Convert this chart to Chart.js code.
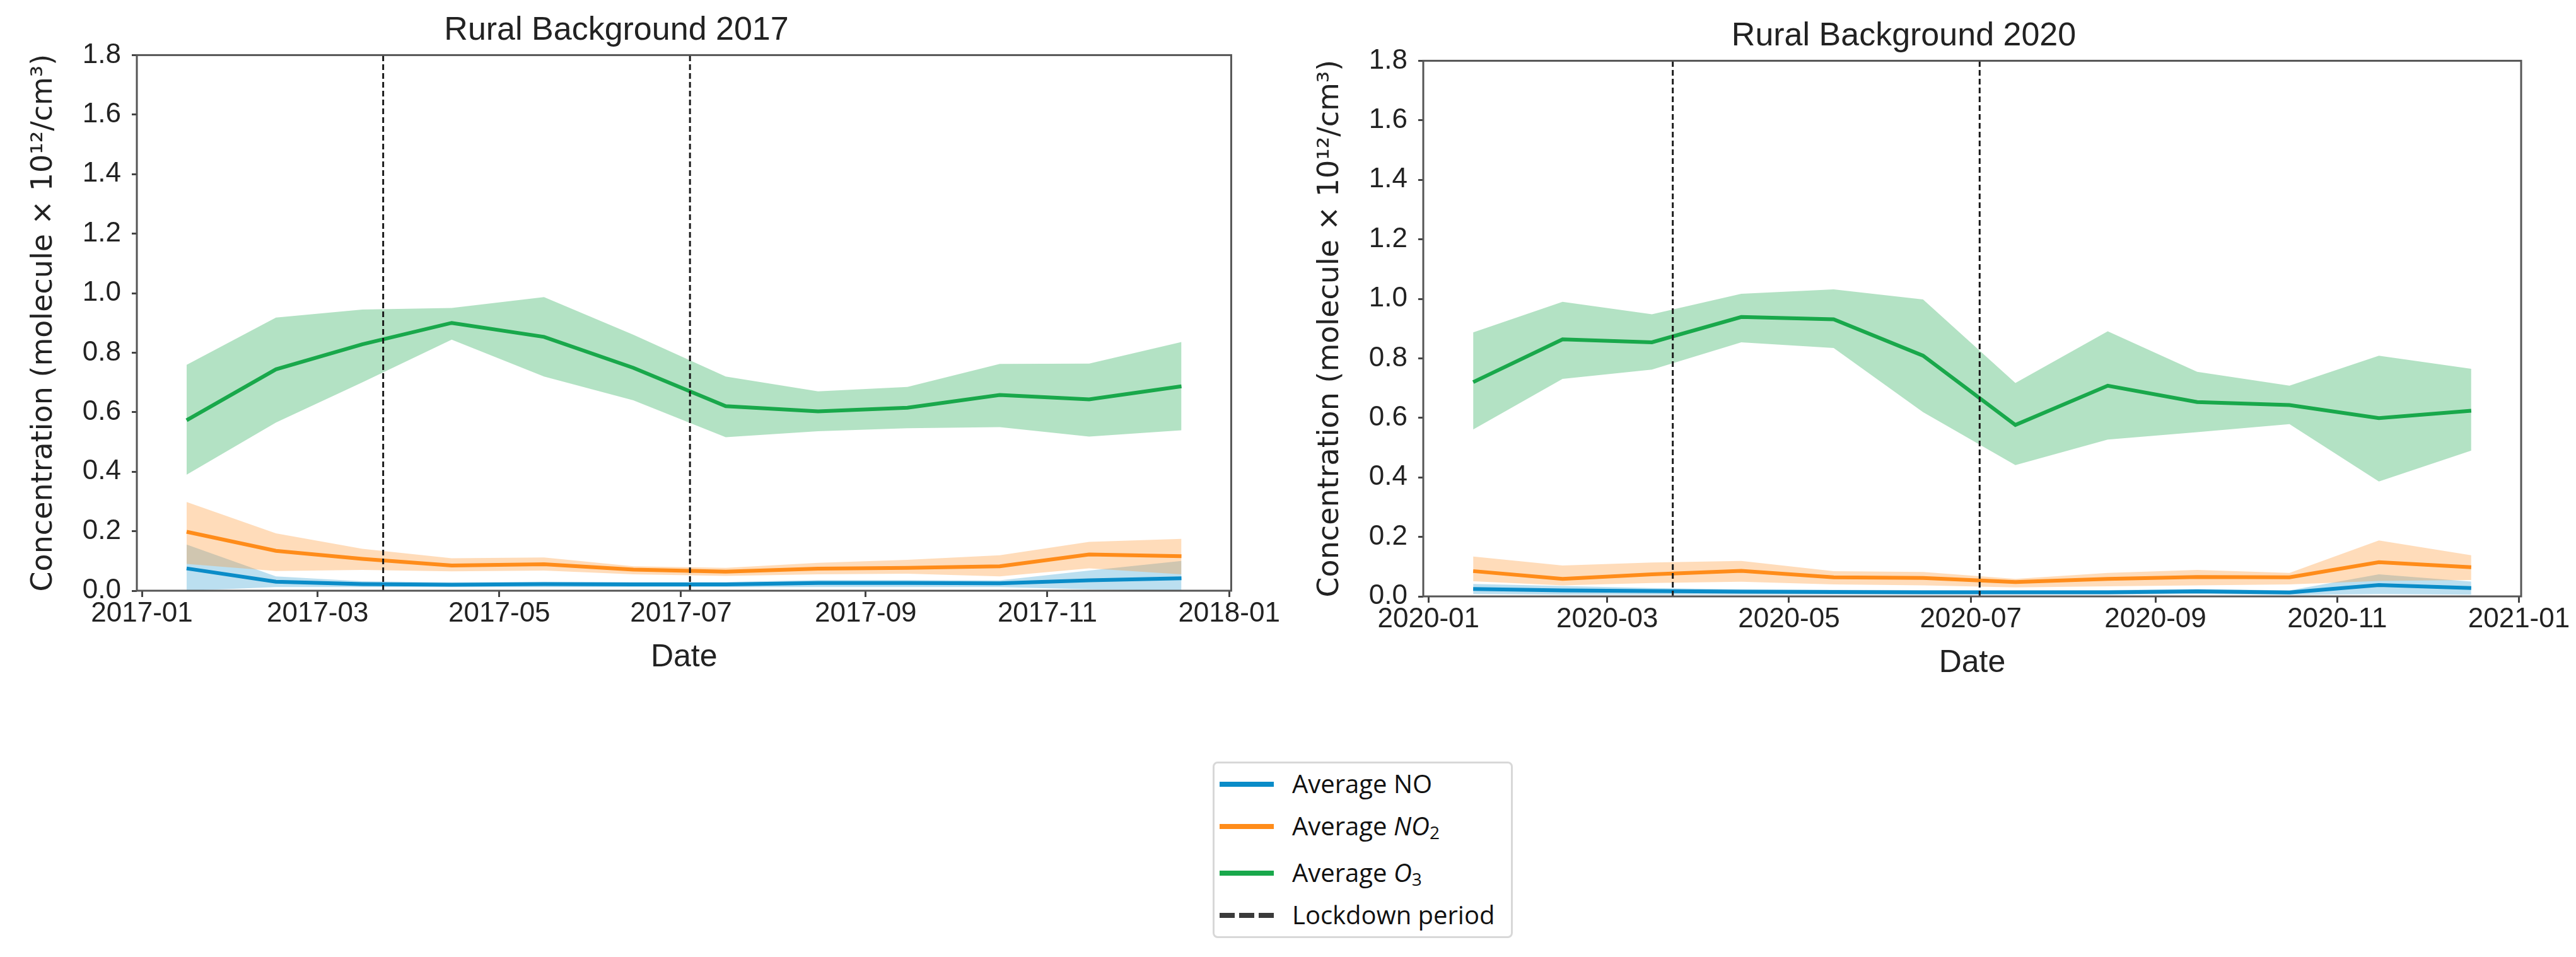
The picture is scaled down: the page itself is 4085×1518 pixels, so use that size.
<!DOCTYPE html>
<html>
<head>
<meta charset="utf-8">
<script src="https://cdn.jsdelivr.net/npm/chart.js@4.4.0/dist/chart.umd.min.js"></script>
<style>
  body { margin: 0; background: #fff; width: 4085px; height: 1518px; position: relative; overflow: hidden; }
  canvas { position: absolute; }
  #c2017 { left: 0; top: 0; }
  #c2020 { left: 2040px; top: 9px; }
  #legend { position: absolute; left: 1923px; top: 1208px; width: 476px; height: 280px; box-sizing: border-box;
            border: 3px solid #d8d8d8; border-radius: 8px; font-family: "Open Sans", sans-serif; font-size: 40px; color: #111; }
  .row { position: absolute; left: 0; height: 0; }
  .swatch { position: absolute; left: 8px; width: 86px; height: 8px; top: -4px; }
  .label { position: absolute; left: 123px; top: -29px; white-space: nowrap; line-height: 56px; }
  .label sub { font-size: 28px; vertical-align: -6px; line-height: 0; }
</style>
</head>
<body>
<canvas id="c2017" width="2030" height="1120"></canvas>
<canvas id="c2020" width="2045" height="1120"></canvas>
<div id="legend">
  <div class="row" style="top:33px"><div class="swatch" style="background:#0a8cc8"></div><div class="label">Average NO</div></div>
  <div class="row" style="top:100px"><div class="swatch" style="background:#ff8c1a"></div><div class="label">Average <i>NO</i><sub>2</sub></div></div>
  <div class="row" style="top:174px"><div class="swatch" style="background:#19a84b"></div><div class="label">Average <i>O</i><sub>3</sub></div></div>
  <div class="row" style="top:241px"><div class="swatch" style="background:repeating-linear-gradient(90deg,#3a3a3a 0 24px,transparent 24px 31px)"></div><div class="label">Lockdown period</div></div>
</div>
<script>
// monthly mean dates
const dates2017 = ['2017-01-16','2017-02-15','2017-03-16','2017-04-15','2017-05-16','2017-06-15',
                   '2017-07-16','2017-08-16','2017-09-15','2017-10-16','2017-11-15','2017-12-16'];
const dates2020 = ['2020-01-16','2020-02-15','2020-03-16','2020-04-15','2020-05-16','2020-06-15',
                   '2020-07-16','2020-08-16','2020-09-15','2020-10-16','2020-11-15','2020-12-16'];

// 2017 series
const no2017     = [0.075, 0.030, 0.022, 0.020, 0.022, 0.021, 0.021, 0.026, 0.026, 0.025, 0.035, 0.042];
const noUp2017   = [0.155, 0.048, 0.032, 0.028, 0.030, 0.029, 0.029, 0.036, 0.036, 0.035, 0.068, 0.100];
const noLow2017  = [0.000, 0.012, 0.012, 0.012, 0.012, 0.012, 0.012, 0.012, 0.012, 0.012, 0.005, 0.000];
const no2_2017    = [0.198, 0.134, 0.107, 0.085, 0.089, 0.071, 0.064, 0.074, 0.077, 0.082, 0.122, 0.116];
const no2Up2017   = [0.298, 0.193, 0.141, 0.109, 0.112, 0.082, 0.077, 0.094, 0.104, 0.119, 0.164, 0.174];
const no2Low2017  = [0.090, 0.066, 0.070, 0.065, 0.068, 0.055, 0.050, 0.055, 0.057, 0.048, 0.075, 0.055];
const o3_2017     = [0.573, 0.744, 0.828, 0.900, 0.853, 0.749, 0.620, 0.603, 0.615, 0.658, 0.643, 0.687];
const o3Up2017    = [0.759, 0.918, 0.945, 0.950, 0.987, 0.860, 0.720, 0.670, 0.685, 0.762, 0.763, 0.836];
const o3Low2017   = [0.390, 0.565, 0.700, 0.844, 0.720, 0.640, 0.516, 0.536, 0.546, 0.550, 0.518, 0.539];

// 2020 series
const no2020     = [0.025, 0.020, 0.018, 0.016, 0.015, 0.014, 0.014, 0.014, 0.017, 0.013, 0.038, 0.028];
const noUp2020   = [0.042, 0.035, 0.028, 0.024, 0.022, 0.021, 0.020, 0.021, 0.025, 0.020, 0.074, 0.050];
const noLow2020  = [0.008, 0.006, 0.006, 0.006, 0.006, 0.006, 0.006, 0.006, 0.008, 0.005, 0.008, 0.006];
const no2_2020    = [0.085, 0.059, 0.074, 0.086, 0.064, 0.062, 0.048, 0.059, 0.065, 0.064, 0.115, 0.098];
const no2Up2020   = [0.134, 0.104, 0.114, 0.119, 0.085, 0.082, 0.059, 0.079, 0.089, 0.079, 0.188, 0.138];
const no2Low2020  = [0.051, 0.037, 0.045, 0.049, 0.040, 0.037, 0.030, 0.034, 0.037, 0.040, 0.052, 0.055];
const o3_2020     = [0.720, 0.864, 0.854, 0.939, 0.931, 0.809, 0.576, 0.708, 0.653, 0.643, 0.599, 0.624];
const o3Up2020    = [0.887, 0.990, 0.948, 1.017, 1.032, 0.998, 0.717, 0.891, 0.755, 0.708, 0.809, 0.765];
const o3Low2020   = [0.561, 0.731, 0.762, 0.854, 0.835, 0.619, 0.441, 0.527, 0.552, 0.579, 0.386, 0.490];

// axes and markers
const xTicks2017 = ['2017-01','2017-03','2017-05','2017-07','2017-09','2017-11','2018-01'];
const xTicks2020 = ['2020-01','2020-03','2020-05','2020-07','2020-09','2020-11','2021-01'];
const yTicks = [0.0, 0.2, 0.4, 0.6, 0.8, 1.0, 1.2, 1.4, 1.6, 1.8];
const lockdown2017 = ['2017-03-23', '2017-07-04'];
const lockdown2020 = ['2020-03-23', '2020-07-04'];

const COL_NO = '#0a8cc8', COL_NO2 = '#ff8c1a', COL_O3 = '#19a84b';
const BAND_NO = 'rgba(10,140,200,0.28)', BAND_NO2 = 'rgba(255,140,26,0.30)', BAND_O3 = 'rgba(25,168,75,0.33)';
const NARROW = "'Liberation Sans Narrow', 'Liberation Sans', Arial, sans-serif";

const day = s => Date.parse(s + 'T00:00:00Z');
const pts = (dates, vals) => dates.map((d, i) => ({ x: day(d), y: vals[i] }));

function band(dates, up, low, color, order) {
  return [
    { data: pts(dates, up), fill: '+1', backgroundColor: color, borderWidth: 0, borderColor: 'transparent', pointRadius: 0, order },
    { data: pts(dates, low), fill: false, borderWidth: 0, borderColor: 'transparent', pointRadius: 0, order }
  ];
}
function mean(dates, vals, color) {
  return { data: pts(dates, vals), borderColor: color, borderWidth: 6, pointRadius: 0, fill: false, tension: 0, order: 1 };
}
function vline(date) {
  return { data: [{ x: day(date), y: yTicks[0] }, { x: day(date), y: yTicks[yTicks.length - 1] }],
           borderColor: '#1a1a1a', borderWidth: 3, borderDash: [9, 5], pointRadius: 0, fill: false, order: 0 };
}

const framePlugin = {
  id: 'frame',
  afterDatasetsDraw(chart) {
    const { ctx, chartArea: a } = chart;
    ctx.save();
    ctx.strokeStyle = '#555';
    ctx.lineWidth = 3;
    ctx.strokeRect(a.left, a.top, a.right - a.left, a.bottom - a.top);
    ctx.restore();
  }
};

function makeChart(id, title, dates, xTicks, lockdown, s, rightPad) {
  const t0 = day(dates[0]), t1 = day(dates[dates.length - 1]);
  const margin = (t1 - t0) * 0.05;
  new Chart(document.getElementById(id), {
    type: 'line',
    data: {
      datasets: [
        ...band(dates, s.noUp, s.noLow, BAND_NO, 6),
        ...band(dates, s.no2Up, s.no2Low, BAND_NO2, 5),
        ...band(dates, s.o3Up, s.o3Low, BAND_O3, 4),
        mean(dates, s.no, COL_NO),
        mean(dates, s.no2, COL_NO2),
        mean(dates, s.o3, COL_O3),
        ...lockdown.map(vline)
      ]
    },
    options: {
      responsive: false,
      animation: false,
      devicePixelRatio: 1,
      layout: { padding: { left: 0, right: rightPad, top: 0, bottom: 0 } },
      plugins: {
        legend: { display: false },
        tooltip: { enabled: false },
        title: { display: true, text: title, color: '#222',
                 font: { family: NARROW, size: 52, weight: 'normal' }, padding: { top: 17, bottom: 8 } }
      },
      scales: {
        x: {
          type: 'linear', min: t0 - margin, max: t1 + margin,
          afterBuildTicks: sc => { sc.ticks = xTicks.map(t => ({ value: day(t + '-01') })); },
          afterFit: sc => { sc.height = 183; },
          ticks: { callback: (v, i) => xTicks[i], color: '#222', font: { family: NARROW, size: 44 },
                   padding: 0, maxRotation: 0, autoSkip: false },
          grid: { drawOnChartArea: false, drawTicks: true, tickLength: 10, tickWidth: 3, tickColor: '#444' },
          border: { display: false },
          title: { display: true, text: 'Date', color: '#222',
                   font: { family: "'Liberation Sans', Arial, sans-serif", size: 50 }, padding: { top: 0, bottom: 47 } }
        },
        y: {
          min: yTicks[0], max: yTicks[yTicks.length - 1],
          afterBuildTicks: sc => { sc.ticks = yTicks.map(v => ({ value: v })); },
          afterFit: sc => { sc.width = 217; },
          ticks: { callback: v => v.toFixed(1), color: '#222', font: { family: NARROW, size: 44 }, padding: 17 },
          grid: { drawOnChartArea: false, drawTicks: true, tickLength: 8, tickWidth: 3, tickColor: '#444' },
          border: { display: false },
          title: { display: true, text: 'Concentration (molecule × 10¹²/cm³)', color: '#222',
                   font: { family: "'DejaVu Sans', sans-serif", size: 46 }, padding: { top: 42, bottom: 0 } }
        }
      }
    },
    plugins: [framePlugin]
  });
}

makeChart('c2017', 'Rural Background 2017', dates2017, xTicks2017, lockdown2017, {
  no: no2017, noUp: noUp2017, noLow: noLow2017,
  no2: no2_2017, no2Up: no2Up2017, no2Low: no2Low2017,
  o3: o3_2017, o3Up: o3Up2017, o3Low: o3Low2017
}, 75);

makeChart('c2020', 'Rural Background 2020', dates2020, xTicks2020, lockdown2020, {
  no: no2020, noUp: noUp2020, noLow: noLow2020,
  no2: no2_2020, no2Up: no2Up2020, no2Low: no2Low2020,
  o3: o3_2020, o3Up: o3Up2020, o3Low: o3Low2020
}, 87);
</script>
</body>
</html>
